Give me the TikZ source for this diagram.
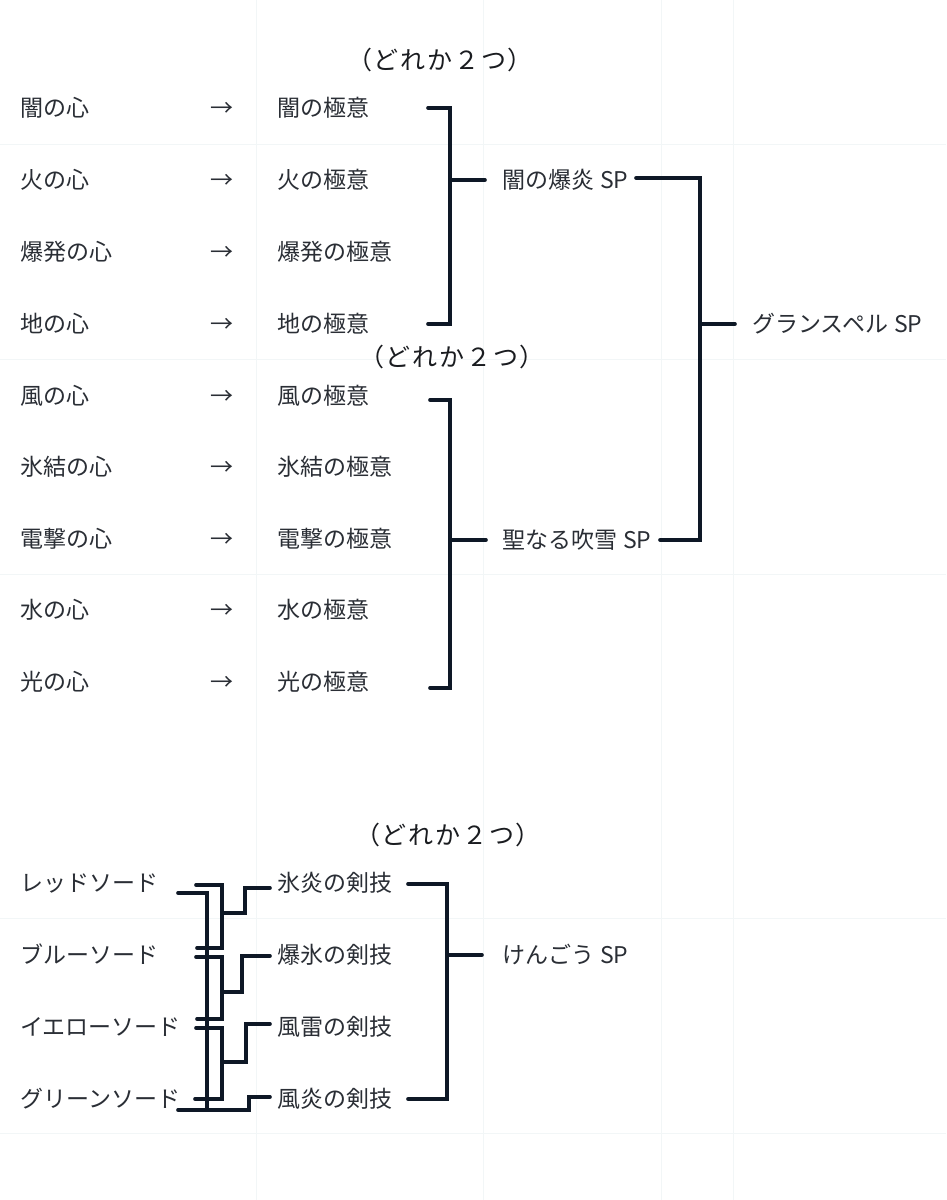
\documentclass[tikz,border=0pt]{standalone}
\usepackage{fontspec}
\setmainfont{Noto Sans CJK JP}
\definecolor{txt}{HTML}{2A2E35}
\definecolor{ttlc}{HTML}{1A1C20}
\definecolor{ln}{HTML}{0E1826}
\definecolor{gridc}{HTML}{F2F6F7}
\newcommand{\gapsp}{\hspace{6pt}SP}
\newcommand{\ttltext}{（\hspace{1pt}ど\hspace{2pt}れ\hspace{2pt}か\hspace{2pt}２\hspace{2pt}つ\hspace{1pt}）}
\begin{document}
\begin{tikzpicture}[x=1pt,y=-1pt,
  lbl/.style={anchor=west,inner sep=0pt,text height=20.2pt,text depth=2.8pt,font=\fontsize{23}{28}\selectfont,text=txt},
  ttl/.style={anchor=center,inner sep=0pt,text height=22pt,text depth=3pt,font=\fontsize{25}{30}\selectfont,text=ttlc},
  wire/.style={draw=ln,line width=3.6pt,line cap=round,line join=miter},
  gridline/.style={draw=gridc,line width=1pt}]
\useasboundingbox[fill=white] (0,0) rectangle (946,1200);
% faint background grid
\foreach \gy in {144,359,574,918,1133} \draw[gridline] (0,\gy) -- (946,\gy);
\foreach \gx in {256,483,661,733} \draw[gridline] (\gx,0) -- (\gx,1200);

% ---------- top section ----------
\node[ttl] (t1) at (440,60) {\ttltext};
\node[ttl] (t2) at (452,357) {\ttltext};
\foreach \n/\a/\b/\y in {1/闇の心/闇の極意/108, 2/火の心/火の極意/180, 3/爆発の心/爆発の極意/252,
  4/地の心/地の極意/324, 5/風の心/風の極意/396, 6/氷結の心/氷結の極意/467,
  7/電撃の心/電撃の極意/539, 8/水の心/水の極意/610, 9/光の心/光の極意/682}{
  \node[lbl] (h\n) at (20,\y) {\a};
  \node[lbl] (r\n) at (210,\y) {→};
  \node[lbl] (k\n) at (277,\y) {\b};
}
\node[lbl] (yb) at (502,180) {闇の爆炎\gapsp};
\node[lbl] (sf) at (502,540) {聖なる吹雪\gapsp};
\node[lbl] (gs) at (752,324) {グランスペル\gapsp};

% bracket 1
\coordinate (b1t) at (428,108);
\coordinate (b1tc) at (450,108);
\coordinate (b1bc) at (450,324);
\coordinate (b1b) at (428,324);
\coordinate (b1m) at (450,180);
\coordinate (b1s) at (485,180);
\draw[wire] (b1t) -- (b1tc) -- (b1bc) -- (b1b);
\draw[wire] (b1m) -- (b1s);
% bracket 2
\coordinate (b2t) at (430,400);
\coordinate (b2tc) at (450,400);
\coordinate (b2bc) at (450,688);
\coordinate (b2b) at (430,688);
\coordinate (b2m) at (450,540);
\coordinate (b2s) at (486,540);
\draw[wire] (b2t) -- (b2tc) -- (b2bc) -- (b2b);
\draw[wire] (b2m) -- (b2s);
% bracket 3
\coordinate (c1) at (636,178);
\coordinate (c1c) at (700,178);
\coordinate (c2c) at (700,540);
\coordinate (c2) at (660,540);
\coordinate (cm) at (700,324);
\coordinate (cs) at (735,324);
\draw[wire] (c1) -- (c1c) -- (c2c) -- (c2);
\draw[wire] (cm) -- (cs);

% ---------- bottom section ----------
\node[ttl] (t3) at (448,835) {\ttltext};
\node[lbl] (s1) at (20,883) {レッドソード};
\node[lbl] (s2) at (20,955) {ブルーソード};
\node[lbl] (s3) at (20,1027) {イエローソード};
\node[lbl] (s4) at (20,1099) {グリーンソード};
\node[lbl] (w1) at (277,883) {氷炎の剣技};
\node[lbl] (w2) at (277,955) {爆氷の剣技};
\node[lbl] (w3) at (277,1027) {風雷の剣技};
\node[lbl] (w4) at (277,1099) {風炎の剣技};
\node[lbl] (kg) at (502,955) {けんごう\gapsp};

% bracket for sword skills
\coordinate (d1) at (408,884);
\coordinate (d1c) at (447,884);
\coordinate (d4c) at (447,1099);
\coordinate (d4) at (408,1099);
\coordinate (dm) at (447,955);
\coordinate (ds) at (482,955);
\draw[wire] (d1) -- (d1c) -- (d4c) -- (d4);
\draw[wire] (dm) -- (ds);

% red + green -> 風炎
\coordinate (rg1) at (178,893);
\coordinate (rg2) at (207,893);
\coordinate (rg3) at (207,1110);
\coordinate (gb1) at (178,1110);
\coordinate (gb2) at (249,1110);
\coordinate (gb3) at (249,1097);
\coordinate (gb4) at (270,1097);
\draw[wire] (rg1) -- (rg2) -- (rg3);
\draw[wire] (gb1) -- (gb2) -- (gb3) -- (gb4);
% red + blue -> 氷炎
\coordinate (p1) at (196,885);
\coordinate (p1c) at (222,885);
\coordinate (p2c) at (222,948);
\coordinate (p2) at (197,948);
\coordinate (p3) at (222,913);
\coordinate (p4) at (245,913);
\coordinate (p5) at (245,888);
\coordinate (p6) at (270,888);
\draw[wire] (p1) -- (p1c) -- (p2c) -- (p2);
\draw[wire] (p3) -- (p4) -- (p5) -- (p6);
% blue + yellow -> 爆氷
\coordinate (q1) at (196,957);
\coordinate (q1c) at (222,957);
\coordinate (q2c) at (222,1019);
\coordinate (q2) at (197,1019);
\coordinate (q3) at (222,992);
\coordinate (q4) at (242,992);
\coordinate (q5) at (242,956);
\coordinate (q6) at (270,956);
\draw[wire] (q1) -- (q1c) -- (q2c) -- (q2);
\draw[wire] (q3) -- (q4) -- (q5) -- (q6);
% yellow + green -> 風雷
\coordinate (u1) at (196,1028);
\coordinate (u1c) at (222,1028);
\coordinate (u2c) at (222,1099);
\coordinate (u2) at (195,1099);
\coordinate (u3) at (222,1062);
\coordinate (u4) at (246,1062);
\coordinate (u5) at (246,1024);
\coordinate (u6) at (270,1024);
\draw[wire] (u1) -- (u1c) -- (u2c) -- (u2);
\draw[wire] (u3) -- (u4) -- (u5) -- (u6);
\end{tikzpicture}
\end{document}
